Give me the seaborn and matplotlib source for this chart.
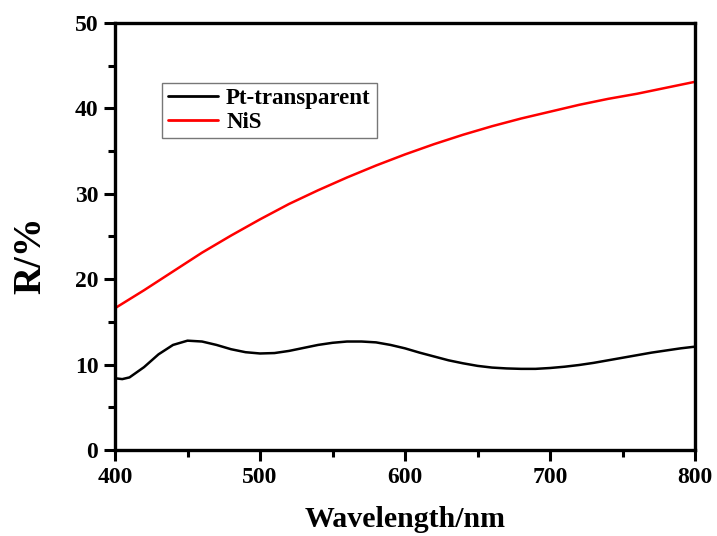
import numpy as np
import pandas as pd
import matplotlib
matplotlib.use("Agg")
import matplotlib.pyplot as plt
from matplotlib.ticker import MultipleLocator
import seaborn as sns

# Значения
wl_pt = [400, 405, 410, 420, 430, 440, 450, 460, 470, 480, 490, 500, 510, 520, 530,
         540, 550, 560, 570, 580, 590, 600, 610, 620, 630, 640, 650, 660, 670, 680,
         690, 700, 710, 720, 730, 740, 750, 760, 770, 780, 790, 800]
r_pt = [8.4, 8.3, 8.5, 9.7, 11.2, 12.3, 12.8, 12.7, 12.3, 11.8, 11.45, 11.3, 11.35, 11.6, 11.95,
        12.3, 12.55, 12.7, 12.7, 12.6, 12.3, 11.9, 11.4, 10.95, 10.5, 10.15, 9.85, 9.65, 9.55, 9.5,
        9.5, 9.6, 9.75, 9.95, 10.2, 10.5, 10.8, 11.1, 11.4, 11.65, 11.9, 12.1]

wl_nis = [400, 420, 440, 460, 480, 500, 520, 540, 560, 580, 600, 620, 640, 660, 680,
          700, 720, 740, 760, 780, 800]
r_nis = [16.6, 18.7, 20.9, 23.1, 25.1, 27.0, 28.8, 30.4, 31.9, 33.3, 34.6, 35.8, 36.9, 37.9, 38.8,
         39.6, 40.4, 41.1, 41.7, 42.4, 43.1]

labels = ["Pt-transparent", "NiS"]
colors = ["black", "red"]

df = pd.concat([
    pd.DataFrame({"wl": wl_pt, "R": r_pt, "sample": labels[0]}),
    pd.DataFrame({"wl": wl_nis, "R": r_nis, "sample": labels[1]}),
])

sns.set_style("ticks")
plt.rcParams["font.family"] = ["Liberation Serif", "DejaVu Serif"]
plt.rcParams["font.weight"] = "bold"
plt.rcParams["text.color"] = "black"
plt.rcParams["axes.labelcolor"] = "black"
plt.rcParams["xtick.color"] = "black"
plt.rcParams["ytick.color"] = "black"

fig = plt.figure(figsize=(7.17, 5.36), dpi=100)
ax = fig.add_axes([0.1604, 0.1604, 0.809, 0.797])

sns.lineplot(data=df, x="wl", y="R", hue="sample", palette=dict(zip(labels, colors)),
             linewidth=1.8, ax=ax)

ax.set_xlim(400, 800)
ax.set_ylim(0, 50)
ax.xaxis.set_major_locator(MultipleLocator(100))
ax.xaxis.set_minor_locator(MultipleLocator(50))
ax.yaxis.set_major_locator(MultipleLocator(10))
ax.yaxis.set_minor_locator(MultipleLocator(5))
ax.tick_params(which="major", direction="out", length=8, width=2.2, labelsize=17, pad=4)
ax.tick_params(which="minor", direction="out", length=5, width=2.2)
ax.tick_params(top=False, right=False, which="both")
for s in ax.spines.values():
    s.set_linewidth(2.4)
    s.set_color("black")
for lab in ax.get_xticklabels() + ax.get_yticklabels():
    lab.set_fontweight("bold")

ax.set_xlabel("Wavelength/nm", fontsize=21.5, fontweight="bold")
ax.set_ylabel("R/%", fontsize=28, fontweight="bold")
ax.xaxis.set_label_coords(0.5, -0.132)
ax.yaxis.set_label_coords(-0.114, 0.457)

leg = ax.legend(loc="upper left", bbox_to_anchor=(0.081, 0.86), fontsize=16.5, frameon=True,
                fancybox=False, edgecolor="#555555", handlelength=2.2, borderpad=0.25,
                labelspacing=0.1, handletextpad=0.35, borderaxespad=0)
leg.get_frame().set_linewidth(1.0)
for t in leg.get_texts():
    t.set_fontweight("bold")
for h in leg.get_lines():
    h.set_linewidth(2.0)

plt.savefig("out.png", dpi=100)
